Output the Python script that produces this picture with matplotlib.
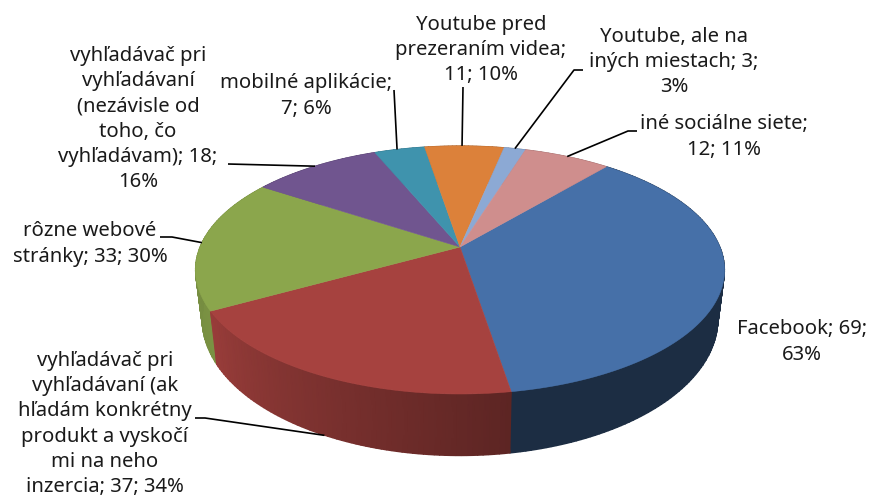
import numpy as np
from matplotlib import pyplot as plt
from matplotlib.colors import LinearSegmentedColormap, to_rgb

values = [69, 37, 33, 18, 7, 11, 3, 12]
label_texts = ['Facebook; 69;\n63%',
               'vyhľadávač pri\nvyhľadávaní (ak\nhľadám konkrétny\nprodukt a vyskočí\nmi na neho\ninzercia; 37; 34%',
               'rôzne webové\nstránky; 33; 30%',
               'vyhľadávač pri\nvyhľadávaní\n(nezávisle od\ntoho, čo\nvyhľadávam); 18;\n16%',
               'mobilné aplikácie;\n7; 6%',
               'Youtube pred\nprezeraním videa;\n11; 10%',
               'Youtube, ale na\niných miestach; 3;\n3%',
               'iné sociálne siete;\n12; 11%']
top_colors = ['#4670a8', '#a6423f', '#8ba64c', '#70558f', '#3f93ad', '#dc813a', '#8ca9d4', '#cf8e8d']
# wall brightness at the start and the end of each slice
wall_shade = [(0.40, 0.40), (0.56, 0.92), (0.88, 0.80), (0.7, 0.7), (0.7, 0.7), (0.7, 0.7), (0.7, 0.7), (0.7, 0.7)]

label_pos = [(802, 342), (105, 424), (90, 244), (138, 119), (306, 96), (481, 50), (674, 62), (724, 137)]
# leader: text-side points, rim it lands on, position along the slice
leaders = [None,
           ([(195, 418), (205, 418)], 'bottom', 0.51),
           ([(160, 237), (172, 237)], 'top', 0.5),
           ([(228, 164)], 'top', 0.5),
           ([(394, 90)], 'top', 0.45),
           ([(463, 87)], 'top', 0.47),
           ([(583, 70), (574, 70)], 'top', 0.5),
           ([(637, 131), (628, 131)], 'top', 0.5)]

CX, CY = 460, 247
R, S, K = 260, 119.8, 0.185
START = 40
DEPTH = 47
BOTTOM_X, BOTTOM_Y = 0.975, 1.1


def project(theta, rim='top'):
    """Perspective projection of a rim point, theta clockwise from the back."""
    t = np.radians(theta)
    x, y = np.sin(t), np.cos(t)
    w = 1 + K * y
    sx, sy = R * x / w, -S * y / w
    if rim == 'bottom':
        return CX + BOTTOM_X * sx, CY + BOTTOM_Y * sy + DEPTH
    return CX + sx, CY + sy


edges = START + np.concatenate([[0], np.cumsum(values)]) / sum(values) * 360

fig = plt.figure(figsize=(8.71, 4.97), dpi=100)
ax = fig.add_axes([0, 0, 1, 1])
ax.set_xlim(0, 871)
ax.set_ylim(497, 0)
ax.axis('off')

# side wall of each slice as a smooth mesh, back slices first
order = sorted(range(len(values)), key=lambda i: np.cos(np.radians((edges[i] + edges[i + 1]) / 2)), reverse=True)
for i in order:
    a, b = edges[i], edges[i + 1]
    theta = np.linspace(a, b, max(int(b - a), 2) + 1)
    top = np.array(project(theta))
    bottom = np.array(project(theta, 'bottom'))
    base = np.array(to_rgb(top_colors[i]))
    cmap = LinearSegmentedColormap.from_list('wall', [base * wall_shade[i][0], base * wall_shade[i][1]])
    shade = np.tile((theta - a) / (b - a), (2, 1))
    ax.pcolormesh(np.vstack([top[0], bottom[0]]), np.vstack([top[1], bottom[1]]), shade,
                  shading='gouraud', cmap=cmap, vmin=0, vmax=1, zorder=1)

# top face
for i, (a, b) in enumerate(zip(edges[:-1], edges[1:])):
    rim = [project(t) for t in np.linspace(a, b, max(int(b - a), 2) + 1)]
    ax.fill(*zip(*([(CX, CY)] + rim)), color=top_colors[i], lw=0.4, zorder=2)

for i, leader in enumerate(leaders):
    if leader is None:
        continue
    pts, rim, frac = leader
    landing = project(edges[i] + (edges[i + 1] - edges[i]) * frac, rim)
    ax.plot(*zip(*(pts + [landing])), color='black', lw=1.2, zorder=3, solid_capstyle='butt')

for txt, (x, y) in zip(label_texts, label_pos):
    ax.text(x, y, txt, ha='center', va='center', ma='center', fontsize=14.6,
            linespacing=1.35, color='#1a1a1a', family='Noto Sans', zorder=4)

plt.savefig('out.png', dpi=100)
